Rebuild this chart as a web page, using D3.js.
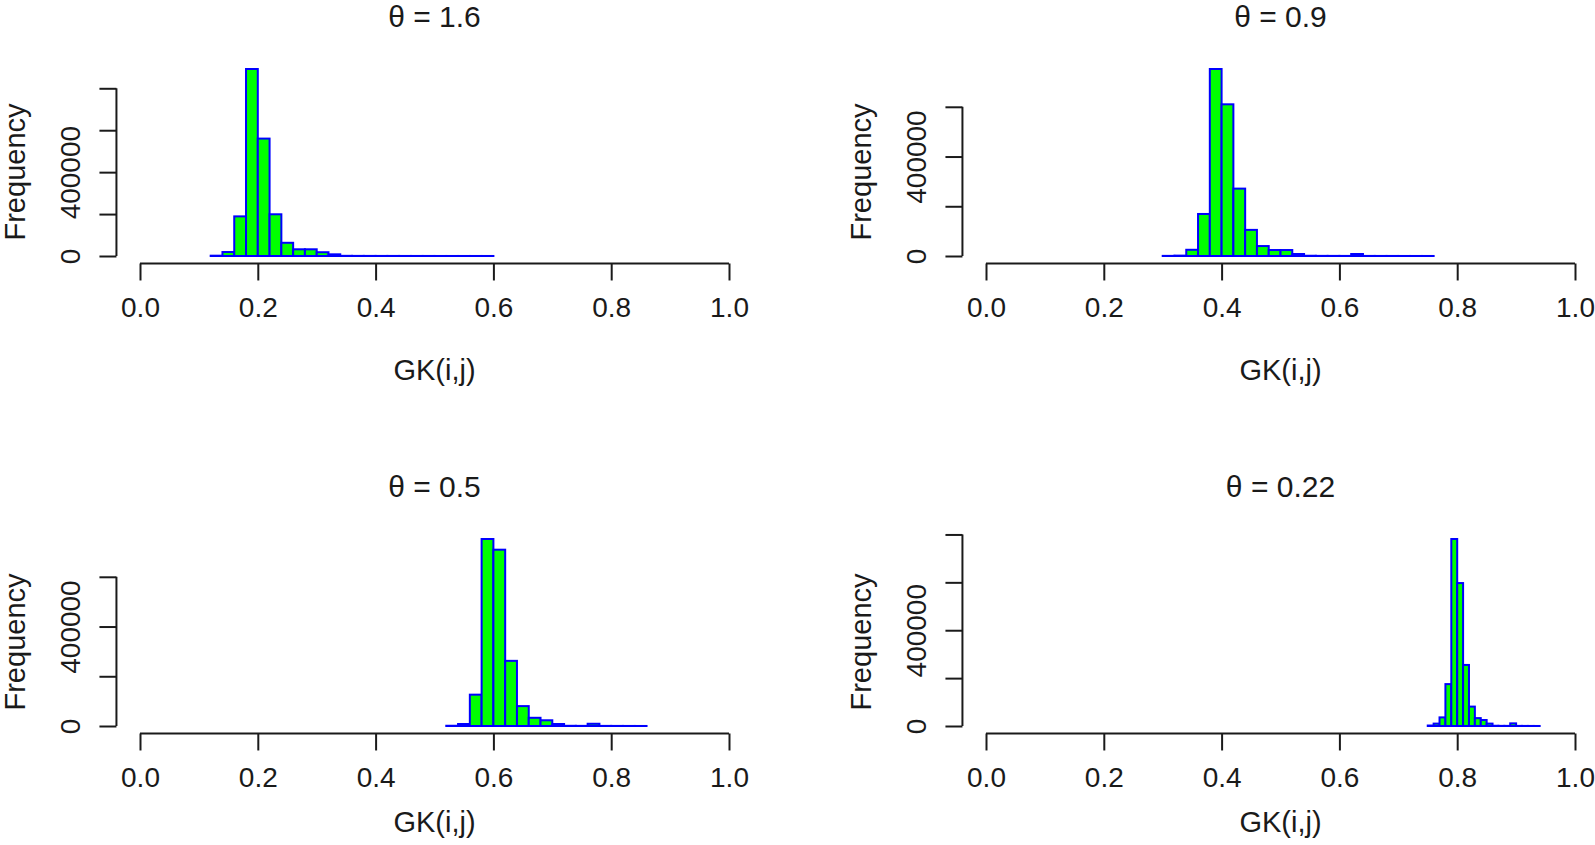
<!DOCTYPE html>
<html><head><meta charset="utf-8">
<script src="https://cdn.jsdelivr.net/npm/d3@7"></script>
<style>
body{margin:0;background:#fff}
svg{display:block}
text{font-family:"Liberation Sans", Arial, Helvetica, sans-serif; fill:#1a1a1a}
</style>
</head><body>
<svg id="chart" width="1595" height="845"></svg>
<script>
// ---- data ----
const thetas = ["1.6", "0.9", "0.5", "0.22"];
const binStarts = [0.12, 0.30, 0.52, 0.75];
const binWidths = [0.02, 0.02, 0.02, 0.01];
const countsTheta16 = [1500, 19000, 189000, 892000, 560000, 199000, 63000, 32000, 32000, 18000, 8000, 800,
  500, 400, 300, 300, 200, 200, 200, 100, 100, 100, 100, 100];
const countsTheta09 = [500, 1500, 25000, 169000, 752000, 610000, 271000, 105000, 40000, 24000, 24000, 8000,
  1000, 500, 400, 300, 8000, 300, 200, 200, 100, 100, 100];
const countsTheta05 = [1000, 8000, 126000, 752000, 709000, 262000, 80000, 33000, 23000, 8000, 800, 500,
  9000, 400, 300, 200, 100];
const countsTheta022 = [2000, 10000, 36000, 175000, 781000, 597000, 255000, 81000, 33000, 25000, 10000, 1000,
  500, 500, 11000, 400, 300, 200, 100];
const allCounts = [countsTheta16, countsTheta09, countsTheta05, countsTheta022];
const xTicks = [0, 0.2, 0.4, 0.6, 0.8, 1.0];
const yTickStep = 200000;
const yLabeledTicks = [0, 400000];
const xLabel = "GK(i,j)";
const yLabel = "Frequency";

// ---- layout ----
const offsets = [[0, 0], [846, 0], [0, 470], [846, 470]];
const xLabelY = [380, 380, 832, 832];
const svg = d3.select("#chart");
const axisColor = "#1a1a1a";

allCounts.forEach((counts, p) => {
  const [ox, oy] = offsets[p];
  const M = d3.max(counts);
  const x = d3.scaleLinear().domain([0, 1]).range([140 + ox, 729 + ox]);
  const y = d3.scaleLinear().domain([0, M]).range([256 + oy, 69 + oy]);
  const g = svg.append("g");

  const bins = counts.map((c, i) => {
    const a = +(binStarts[p] + i * binWidths[p]).toFixed(4);
    return {x0: a, x1: +(a + binWidths[p]).toFixed(4), c};
  });

  g.selectAll("rect.bar").data(bins).enter().append("rect")
    .attr("class", "bar")
    .attr("x", d => x(d.x0))
    .attr("width", d => x(d.x1) - x(d.x0))
    .attr("y", d => y(d.c))
    .attr("height", d => y(0) - y(d.c))
    .attr("fill", "#00ff00")
    .attr("stroke", "#0000ff")
    .attr("stroke-width", 2);

  // x axis
  const xAxisY = y(-0.04 * M);
  const xa = g.append("g").attr("transform", `translate(0,${xAxisY})`)
    .call(d3.axisBottom(x).tickValues(xTicks).tickSize(17).tickFormat(d3.format(".1f")));
  xa.select(".domain").remove();
  xa.selectAll("line").attr("stroke", axisColor).attr("stroke-width", 2);
  xa.selectAll("text").attr("y", 53.5).attr("dy", null)
    .style("font-size", "28px").attr("fill", axisColor);
  xa.append("line").attr("x1", x(0)).attr("x2", x(1)).attr("y1", 0).attr("y2", 0)
    .attr("stroke", axisColor).attr("stroke-width", 2);

  // y axis
  const yTicks = d3.range(0, 1.04 * M, yTickStep);
  const yAxisX = x(-0.04);
  const ya = g.append("g").attr("transform", `translate(${yAxisX},0)`)
    .call(d3.axisLeft(y).tickValues(yTicks).tickSize(17)
      .tickFormat(d => yLabeledTicks.includes(d) ? String(d) : ""));
  ya.select(".domain").remove();
  ya.selectAll("line").attr("stroke", axisColor).attr("stroke-width", 2);
  ya.selectAll("text").attr("x", null).attr("dy", null)
    .attr("transform", "translate(-36.5,0) rotate(-90)")
    .attr("text-anchor", "middle")
    .style("font-size", "28px").attr("fill", axisColor);
  ya.append("line").attr("x1", 0).attr("x2", 0)
    .attr("y1", y(0)).attr("y2", y(d3.max(yTicks)))
    .attr("stroke", axisColor).attr("stroke-width", 2);

  const cx = (x(0) + x(1)) / 2;
  // title
  g.append("text").attr("x", cx).attr("y", 27 + oy)
    .attr("text-anchor", "middle").style("font-size", "30px")
    .text(`θ = ${thetas[p]}`);
  // x label
  g.append("text").attr("x", cx).attr("y", xLabelY[p])
    .attr("text-anchor", "middle").style("font-size", "29px")
    .text(xLabel);
  // y label
  g.append("text")
    .attr("transform", `translate(${25 + ox},${172 + oy}) rotate(-90)`)
    .attr("text-anchor", "middle").style("font-size", "29px")
    .text(yLabel);
});
</script>
</body></html>
